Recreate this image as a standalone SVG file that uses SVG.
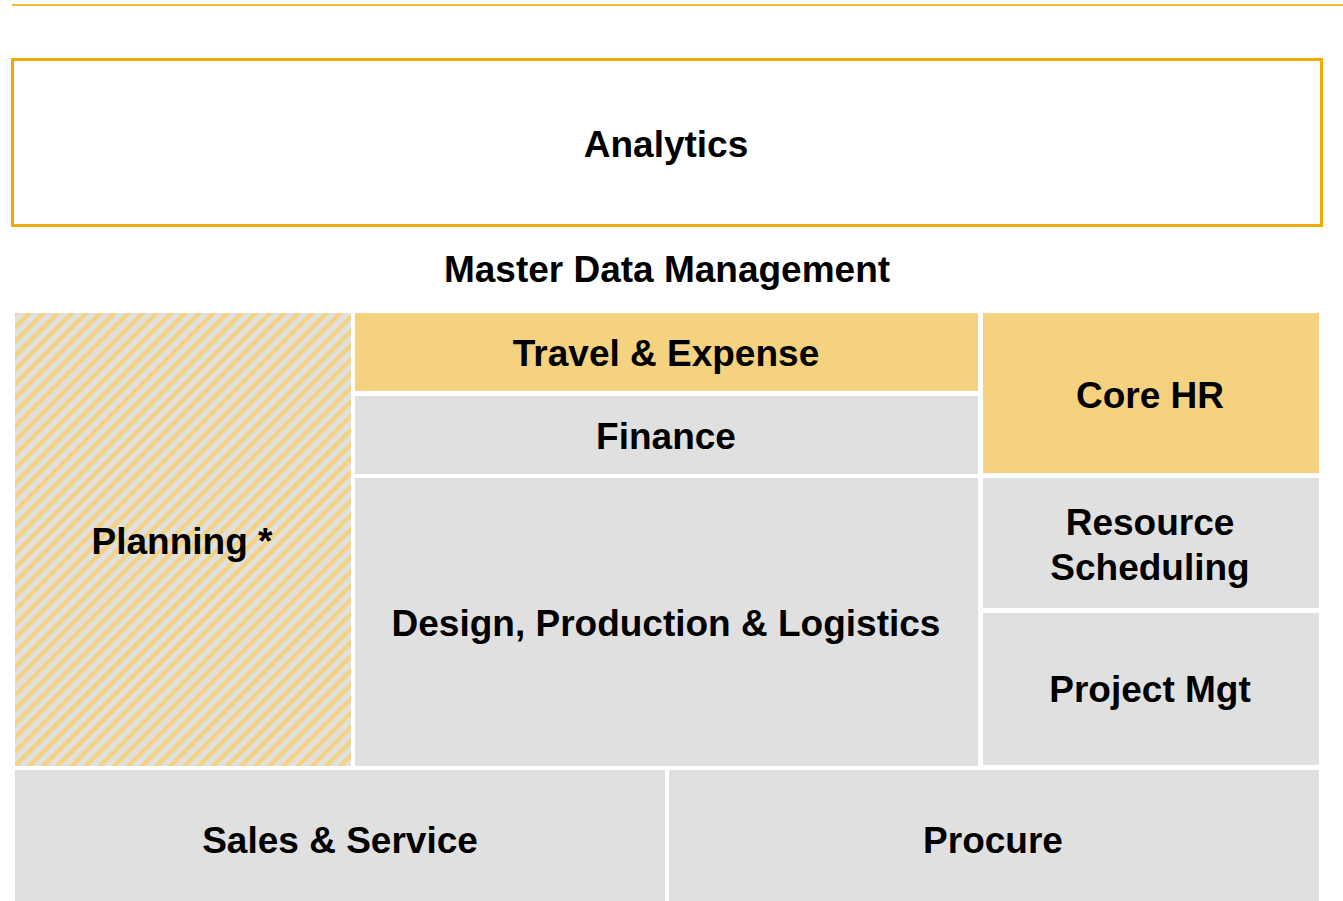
<svg xmlns="http://www.w3.org/2000/svg" width="1343" height="901" viewBox="0 0 1343 901">
<style>
.t{font-family:"Liberation Sans",Arial,sans-serif;font-weight:bold;font-size:37px;fill:#000;text-anchor:middle}
.y{fill:#f5d27f}
.g{fill:#e0e0e0}
</style>
<defs>
<pattern id="hatch" patternUnits="userSpaceOnUse" width="10" height="10" patternTransform="rotate(45)">
<rect x="0" y="0" width="10" height="10" fill="#e0e0e0"/>
<rect x="0" y="0" width="4.5" height="10" fill="#f5d27f"/>
</pattern>
</defs>
<rect width="1343" height="901" fill="#fff"/>
<line x1="12" y1="5" x2="1343" y2="5" stroke="#f3bb3a" stroke-width="2"/>
<g id="analytics">
<rect x="12.5" y="59.5" width="1309" height="166" fill="#fff" stroke="#f0ab00" stroke-width="3"/>
<text class="t" x="666" y="157">Analytics</text>
</g>
<g id="mdm">
<text class="t" x="667" y="282">Master Data Management</text>
</g>
<g id="planning">
<rect x="15" y="313" width="336" height="453" fill="url(#hatch)"/>
<text class="t" x="182" y="554">Planning *</text>
</g>
<g id="travel">
<rect class="y" x="355" y="313" width="623" height="78"/>
<text class="t" x="666" y="366">Travel &amp; Expense</text>
</g>
<g id="finance">
<rect class="g" x="355" y="396" width="623" height="78"/>
<text class="t" x="666" y="449">Finance</text>
</g>
<g id="design">
<rect class="g" x="355" y="478" width="623" height="288"/>
<text class="t" x="666" y="636">Design, Production &amp; Logistics</text>
</g>
<g id="corehr">
<rect class="y" x="983" y="313" width="336" height="160"/>
<text class="t" x="1150" y="408">Core HR</text>
</g>
<g id="resource">
<rect class="g" x="983" y="478" width="336" height="130"/>
<text class="t" x="1150" y="535">Resource</text>
<text class="t" x="1150" y="580">Scheduling</text>
</g>
<g id="project">
<rect class="g" x="983" y="613" width="336" height="152"/>
<text class="t" x="1150" y="702">Project Mgt</text>
</g>
<g id="sales">
<rect class="g" x="15" y="770" width="650" height="131"/>
<text class="t" x="340" y="853">Sales &amp; Service</text>
</g>
<g id="procure">
<rect class="g" x="669" y="770" width="650" height="131"/>
<text class="t" x="993" y="853">Procure</text>
</g>
<g id="connectors"/>
</svg>
